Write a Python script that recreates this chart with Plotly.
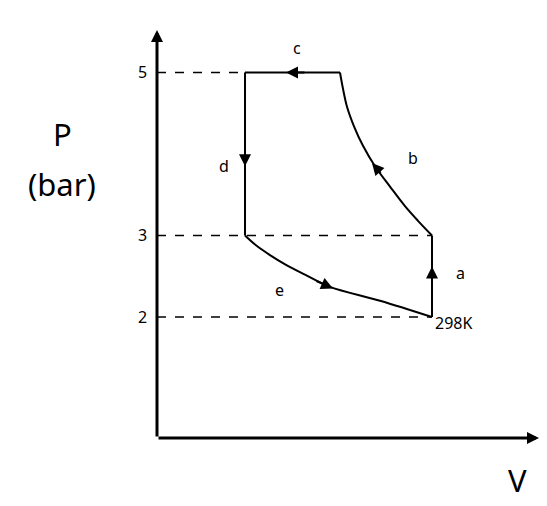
import plotly.graph_objects as go

# process points (V arbitrary units, P in bar)
v_a = [4.32, 4.32]; p_a = [2.0, 3.0]
v_b = [4.32, 4.18, 4.05, 3.90, 3.75, 3.63, 3.54, 3.47, 3.43, 3.40]
p_b = [3.0, 3.18, 3.36, 3.60, 3.85, 4.10, 4.34, 4.58, 4.80, 5.0]
v_c = [3.40, 2.45]; p_c = [5.0, 5.0]
v_d = [2.45, 2.45]; p_d = [5.0, 3.0]
v_e = [2.45, 2.56, 2.70, 2.86, 3.05, 3.30, 3.80, 4.32]
p_e = [3.0, 2.88, 2.76, 2.64, 2.52, 2.37, 2.20, 2.0]
p_ticks = [2, 3, 5]
V0, P0 = 1.57, 0.515

fig = go.Figure()
for p, vend in zip(p_ticks, [4.32, 4.32, 2.45]):
    fig.add_trace(go.Scatter(x=[V0, vend], y=[p, p], mode="lines",
                             line=dict(color="black", width=1.5, dash="dash")))
for xs, ys in [(v_a, p_a), (v_b, p_b), (v_c, p_c), (v_d, p_d), (v_e, p_e)]:
    fig.add_trace(go.Scatter(x=xs, y=ys, mode="lines", line=dict(color="black", width=2),
                             line_shape="spline"))

def arrow(x, y, ax, ay, size=1.2, width=2):
    fig.add_annotation(x=x, y=y, ax=ax, ay=ay, axref="x", ayref="y", xref="x", yref="y",
                       showarrow=True, arrowhead=2, arrowsize=size, arrowwidth=width,
                       arrowcolor="black", text="")

arrow(V0 + 3.82, P0, V0, P0, 0.8, 3)
arrow(V0, 5.52, V0, P0, 0.8, 3)
arrow(4.32, 2.62, 4.32, 2.42)
arrow(2.86, 5.0, 3.06, 5.0)
arrow(2.45, 3.85, 2.45, 4.1)
arrow(3.72, 3.89, 3.82, 3.75)
arrow(3.33, 2.35, 3.15, 2.45)

labels = [(2.97, 5.3, "c"), (2.24, 3.85, "d"), (4.13, 3.95, "b"), (4.60, 2.54, "a"),
          (2.79, 2.33, "e"), (4.53, 1.93, "298K")]
for x, y, t in labels:
    fig.add_annotation(x=x, y=y, text=t, showarrow=False, font=dict(size=16, color="black"))
for p in p_ticks:
    fig.add_annotation(x=1.42, y=p, text=str(p), showarrow=False, font=dict(size=16, color="black"))
fig.add_annotation(x=0.62, y=4.25, text="P", showarrow=False, font=dict(size=31, color="black"))
fig.add_annotation(x=0.62, y=3.63, text="(bar)", showarrow=False, font=dict(size=31, color="black"))
fig.add_annotation(x=5.17, y=0.0, text="V", showarrow=False, font=dict(size=31, color="black"))

fig.update_layout(width=547, height=506, margin=dict(l=0, r=0, t=0, b=0),
                  showlegend=False, plot_bgcolor="white", paper_bgcolor="white",
                  font=dict(family="Noto Sans"),
                  xaxis=dict(range=[0.08, 5.55], visible=False),
                  yaxis=dict(range=[-0.417, 5.791], visible=False))
fig.write_html("out.html")
